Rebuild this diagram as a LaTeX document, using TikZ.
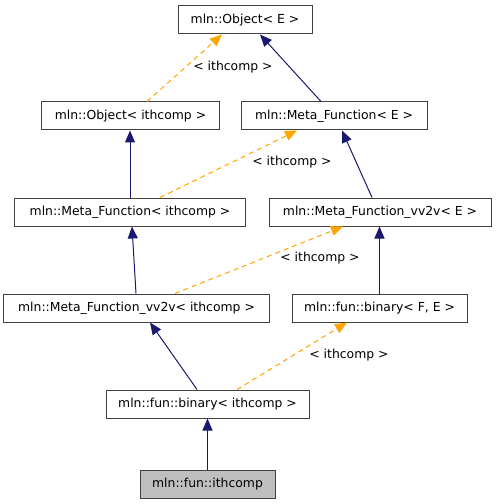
\documentclass[tikz,border=0pt]{standalone}
\usepackage{fontspec}
\setmainfont{DejaVu Sans}
\usetikzlibrary{arrows.meta}
\definecolor{navy}{HTML}{191970}
\definecolor{amber}{HTML}{FFA500}
\definecolor{frame}{HTML}{404040}
\definecolor{leaf}{HTML}{BFBFBF}
\begin{document}
\begin{tikzpicture}[
	x=1bp,y=-1bp,
	every node/.style={font=\fontsize{12.4bp}{14bp}\selectfont},
	cls/.style={draw=frame,line width=1bp,minimum height=28bp,inner sep=0pt,fill=white},
	pub/.style={navy,line width=1bp,-{Triangle[length=12bp,width=10bp]}},
	tpl/.style={amber,line width=1bp,dash pattern=on 5bp off 4bp,-{Triangle[length=12bp,width=10bp]}},
	tlab/.style={black,inner sep=0pt,fill=none}
]
%\draw[step=10,black!10] (0,0) grid (496,504);
\useasboundingbox (0,0) rectangle (496,504);
\node[cls,minimum width=134bp] (objE) at (245,20) {mln::Object< E >};
\node[cls,minimum width=177bp] (objI) at (130.5,116) {mln::Object< ithcomp >};
\node[cls,minimum width=186bp] (mfE) at (334,116) {mln::Meta\_Function< E >};
\node[cls,minimum width=230bp] (mfI) at (130,212) {mln::Meta\_Function< ithcomp >};
\node[cls,minimum width=222bp] (vvE) at (380,212) {mln::Meta\_Function\_vv2v< E >};
\node[cls,minimum width=265bp] (vvI) at (136.5,308) {mln::Meta\_Function\_vv2v< ithcomp >};
\node[cls,minimum width=175bp] (binFE) at (379.5,308) {mln::fun::binary< F, E >};
\node[cls,minimum width=203bp] (binI) at (207.5,404) {mln::fun::binary< ithcomp >};
\node[cls,minimum width=135bp,fill=leaf] (ith) at (207.5,484) {mln::fun::ithcomp};
% inheritance
\draw[tpl] ([xshift=16.5bp]objI.north) -- ([xshift=-23bp]objE.south) node[tlab,midway,xshift=48.5bp,yshift=1bp]{< ithcomp >};
\draw[pub] ([xshift=-13bp]mfE.north) -- ([xshift=15bp]objE.south);
\draw[pub] (mfI.north) -- (mfI.north|-objI.south);
\draw[tpl] ([xshift=30bp]mfI.north) -- ([xshift=-37bp]mfE.south) node[tlab,midway,xshift=63.5bp,yshift=2bp]{< ithcomp >};
\draw[pub] ([xshift=-8bp]vvE.north) -- ([xshift=8bp]mfE.south);
\draw[pub] ([xshift=-0.5bp]vvI.north) -- ([xshift=2bp]mfI.south);
\draw[tpl] ([xshift=38.5bp]vvI.north) -- ([xshift=-37bp]vvE.south) node[tlab,midway,xshift=61bp,yshift=2bp]{< ithcomp >};
\draw[pub] (binFE.north) -- (binFE.north|-vvE.south);
\draw[pub] ([xshift=-10.5bp]binI.north) -- ([xshift=13.5bp]vvI.south);
\draw[tpl] ([xshift=29.5bp]binI.north) -- ([xshift=-32.5bp]binFE.south) node[tlab,midway,xshift=57bp,yshift=1bp]{< ithcomp >};
\draw[pub] (ith.north) -- (binI.south);
\end{tikzpicture}
\end{document}
